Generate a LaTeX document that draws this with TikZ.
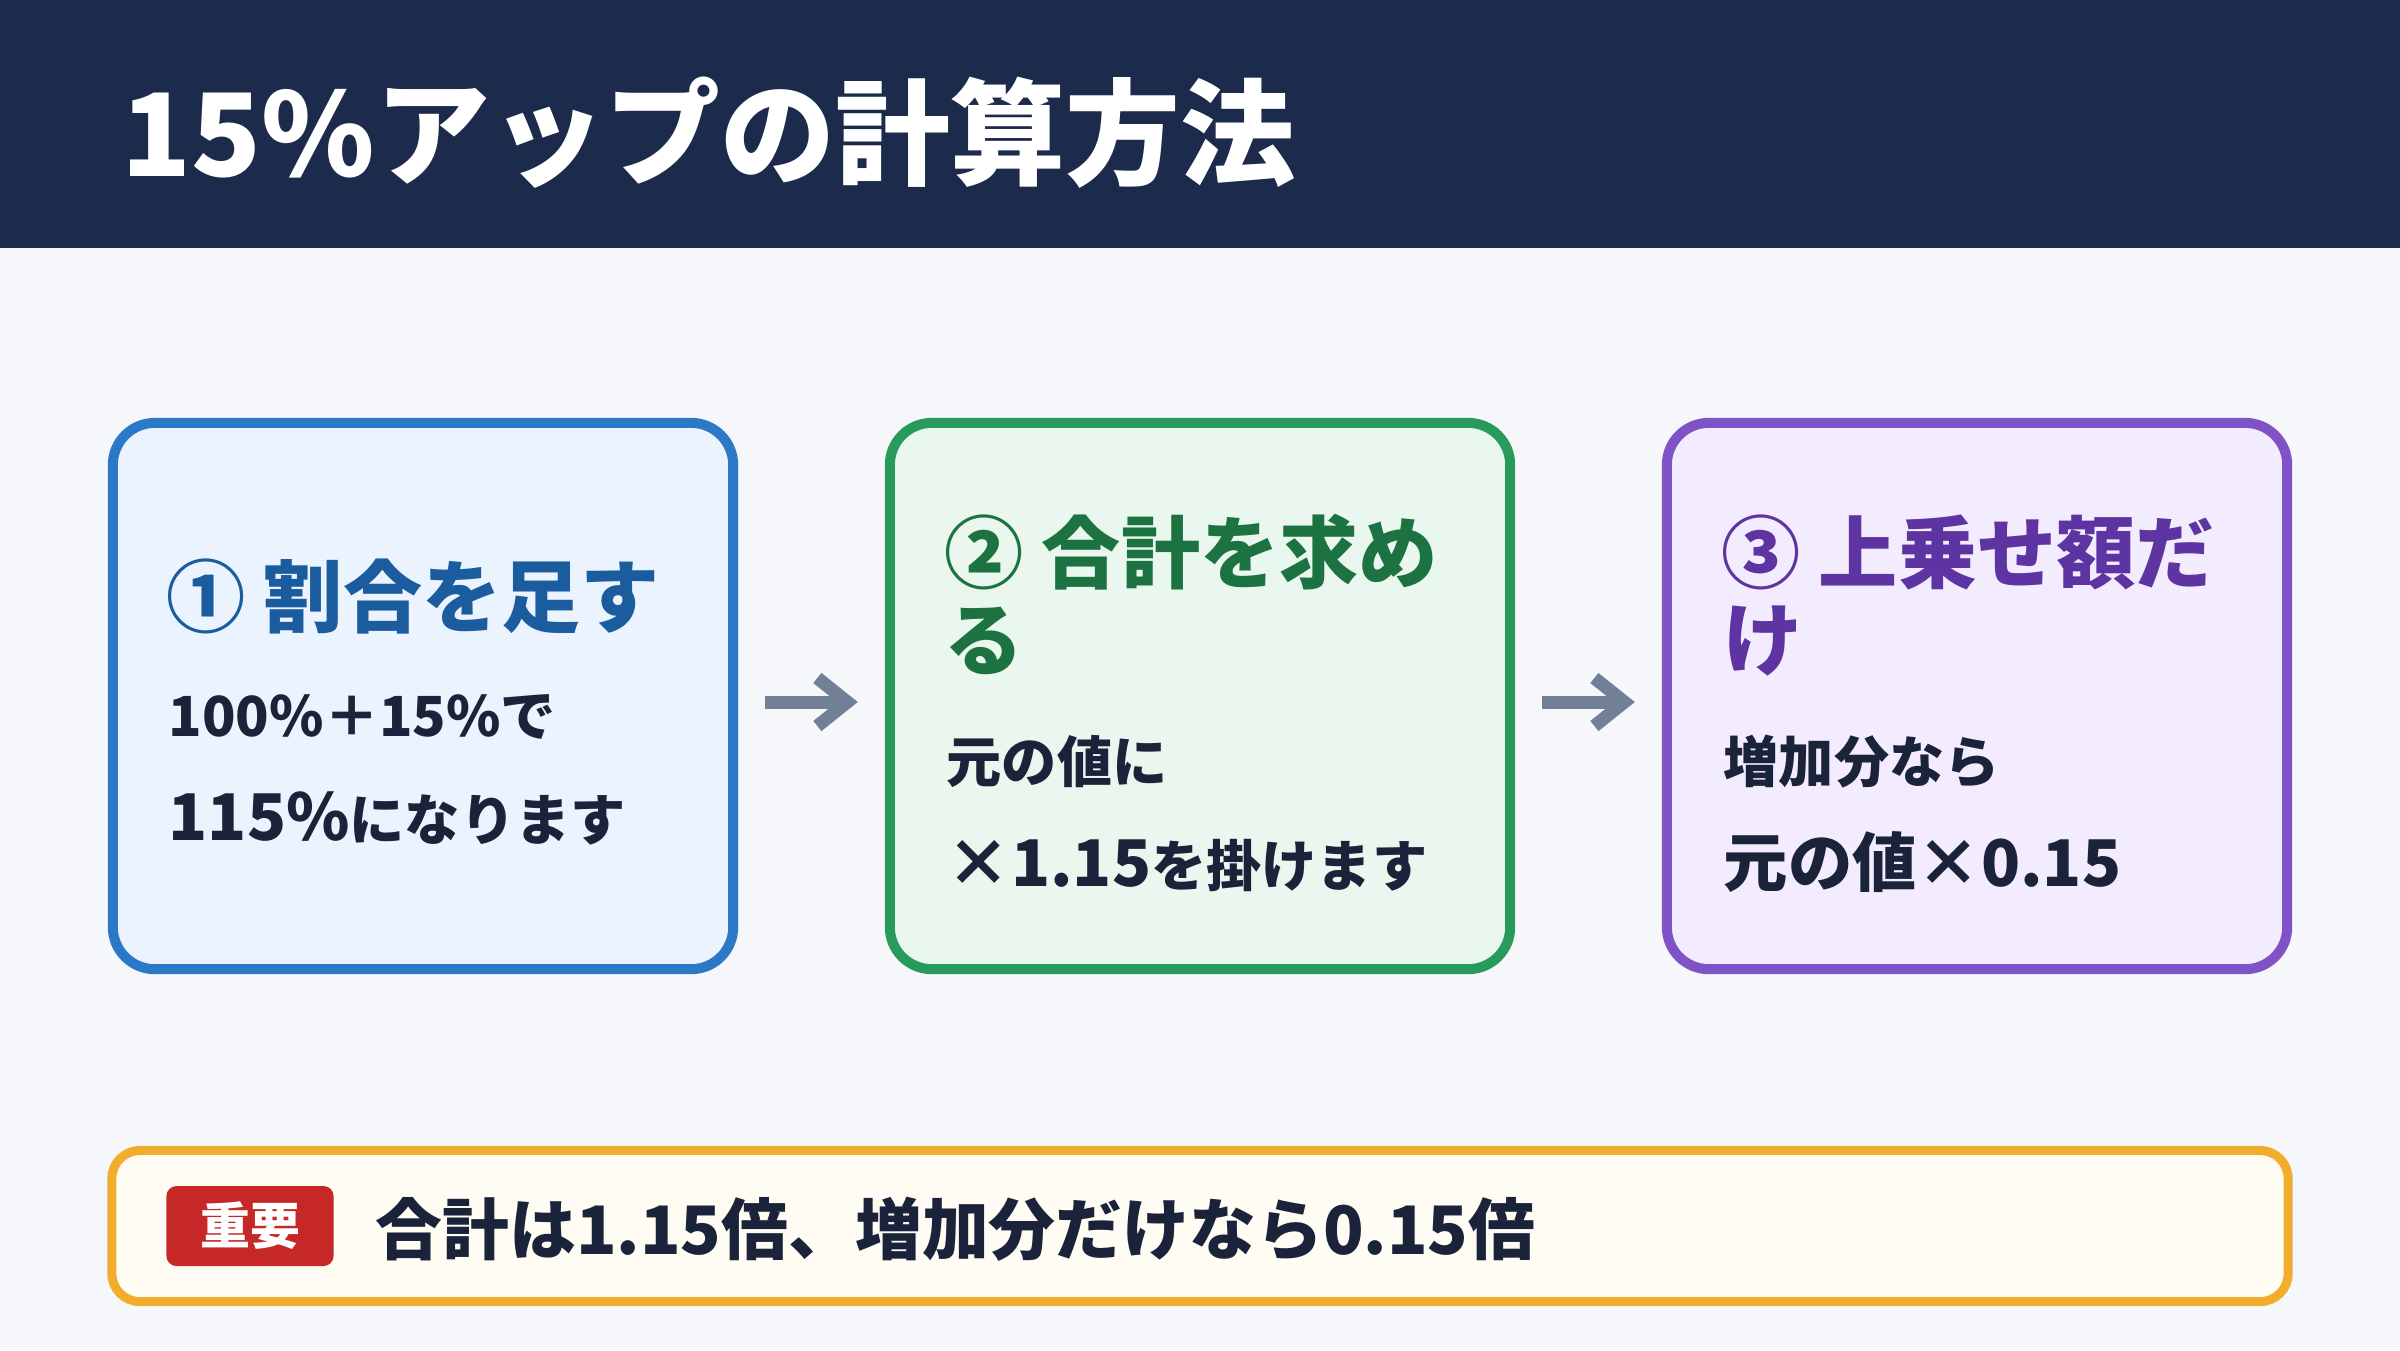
\documentclass[tikz,border=0pt]{standalone}
\usepackage{fontspec}
\setmainfont{Noto Sans CJK JP}
\usetikzlibrary{arrows.meta}
\definecolor{navy}{HTML}{1C2A4B}
\definecolor{pagebg}{HTML}{F5F7FB}
\definecolor{inkdark}{HTML}{1A2339}
\definecolor{blueline}{HTML}{2A78C6}
\definecolor{bluefill}{HTML}{EBF3FF}
\definecolor{bluetext}{HTML}{1B5C9E}
\definecolor{greenline}{HTML}{289A5B}
\definecolor{greenfill}{HTML}{E9F7EE}
\definecolor{greentext}{HTML}{1C7341}
\definecolor{purpleline}{HTML}{7F53C5}
\definecolor{purplefill}{HTML}{F3ECFE}
\definecolor{purpletext}{HTML}{5E33A2}
\definecolor{arrowgray}{HTML}{718096}
\definecolor{noteline}{HTML}{F0AD2E}
\definecolor{notefill}{HTML}{FFFCF4}
\definecolor{notered}{HTML}{C62828}
\newcommand{\emphsize}{\fontsize{18.3}{19}\selectfont}

\begin{document}
\begin{tikzpicture}[x=0.01cm,y=-0.01cm,
    every node/.style={inner sep=0pt},
    stepbox/.style={rounded corners=0.42cm, line width=0.1cm, minimum width=6.2cm, minimum height=5.46cm, outer sep=0pt},
    steptitle/.style={anchor=base west, font=\bfseries\fontsize{22.5}{24}\selectfont},
    stepbody/.style={anchor=base west, text=inkdark, font=\bfseries\fontsize{15.7}{17}\selectfont},
    flow/.style={arrowgray, line width=0.13cm, -{Straight Barb[length=0.3cm,width=0.48cm]}, shorten <=0.32cm, shorten >=0.32cm}]
  \fill[pagebg] (0,0) rectangle (2400,1350);
  \useasboundingbox (0,0) rectangle (2400,1350);
  \fill[navy] (0,0) rectangle (2400,248);
  \node[anchor=base west, text=white, font=\bfseries\fontsize{32.7}{34}\selectfont] (title) at (121,176) {15\%アップの計算方法};

  \node[stepbox, draw=blueline, fill=bluefill] (s1) at (423,696) {};
  \node[stepbox, draw=greenline, fill=greenfill] (s2) at (1200,696) {};
  \node[stepbox, draw=purpleline, fill=purplefill] (s3) at (1977,696) {};

  \node[steptitle, text=bluetext] (h1) at (166,626) {① 割合を足す};
  \node[stepbody] (b1a) at (168,736) {100\%＋15\%で};
  \node[stepbody] (b1b) at (168,840) {{\emphsize 115\%}になります};

  \node[steptitle, text=greentext] (h2) at (944,582) {② 合計を求め};
  \node[steptitle, text=greentext] (h2b) at (944,669) {る};
  \node[stepbody] (b2a) at (946,782) {元の値に};
  \node[stepbody] (b2b) at (946,886) {{\emphsize ×1.15}を掛けます};

  \node[steptitle, text=purpletext] (h3) at (1721,582) {③ 上乗せ額だ};
  \node[steptitle, text=purpletext] (h3b) at (1723,669) {け};
  \node[stepbody] (b3a) at (1723,782) {増加分なら};
  \node[stepbody] (b3b) at (1723,886) {\emphsize 元の値×0.15};

  \draw[flow] ([yshift=-0.06cm]s1.east) -- ([yshift=-0.06cm]s2.west);
  \draw[flow] ([yshift=-0.06cm]s2.east) -- ([yshift=-0.06cm]s3.west);

  \node[draw=noteline, fill=notefill, line width=0.09cm, rounded corners=0.28cm, minimum width=21.75cm, minimum height=1.51cm, outer sep=0pt] (note) at (1200,1226) {};
  \node[fill=notered, rounded corners=0.1cm, minimum width=1.67cm, minimum height=0.8cm, text=white, font=\bfseries\fontsize{14.2}{15}\selectfont] (tag) at (250,1226) {重要};
  \node[anchor=base west, text=inkdark, font=\bfseries\fontsize{19}{20}\selectfont] (point) at (375,1254) {合計は1.15倍、増加分だけなら0.15倍};
\end{tikzpicture}
\end{document}
